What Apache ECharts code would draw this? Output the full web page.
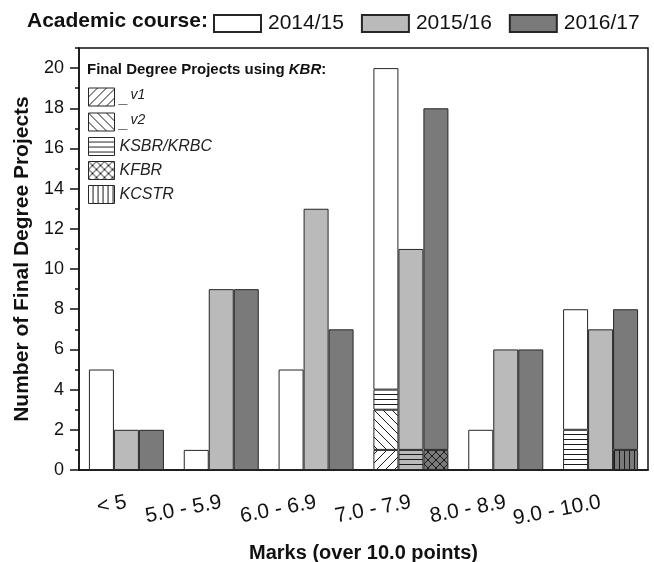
<!DOCTYPE html>
<html>
<head>
<meta charset="utf-8">
<script src="https://cdn.jsdelivr.net/npm/echarts@6/dist/echarts.min.js"></script>
<style>html,body{margin:0;padding:0;background:#fff}#c{width:654px;height:562px}</style>
</head>
<body>
<div id="c"></div>
<script>
// ---- data ----
const categories = ['< 5', '5.0 - 5.9', '6.0 - 6.9', '7.0 - 7.9', '8.0 - 8.9', '9.0 - 10.0'];
const courses = ['2014/15', '2015/16', '2016/17'];
const total1415 = [5, 1, 5, 20, 2, 8];
const total1516 = [2, 9, 13, 11, 6, 7];
const total1617 = [2, 9, 7, 18, 6, 8];
// KBR-based projects (hatched parts at bottom of bars)
const v1_1415 = [0, 0, 0, 1, 0, 0];
const v2_1415 = [0, 0, 0, 2, 0, 0];
const ksbr_1415 = [0, 0, 0, 1, 0, 2];
const ksbr_1516 = [0, 0, 0, 1, 0, 0];
const kfbr_1617 = [0, 0, 0, 1, 0, 0];
const kcstr_1617 = [0, 0, 0, 0, 0, 1];
const yTicks = [0, 2, 4, 6, 8, 10, 12, 14, 16, 18, 20];

// ---- styles ----
const WHITE = '#ffffff', LIGHT = '#bababa', DARK = '#7a7a7a', EDGE = '#262626';
const FONT = 'Liberation Sans';

function makePattern(bg, kind) {
  const s = (kind === 'h' || kind === 'v') ? 5 : (kind === 'x' ? 8 : 9);
  const c = document.createElement('canvas');
  c.width = s; c.height = s;
  const g = c.getContext('2d');
  g.fillStyle = bg; g.fillRect(0, 0, s, s);
  g.strokeStyle = '#1a1a1a'; g.lineWidth = 1;
  g.beginPath();
  const fwd = () => { g.moveTo(0, s); g.lineTo(s, 0); g.moveTo(-2, 2); g.lineTo(2, -2); g.moveTo(s - 2, s + 2); g.lineTo(s + 2, s - 2); };
  const bwd = () => { g.moveTo(0, 0); g.lineTo(s, s); g.moveTo(s - 2, -2); g.lineTo(s + 2, 2); g.moveTo(-2, s - 2); g.lineTo(2, s + 2); };
  if (kind === 'h') { g.moveTo(0, s - 0.5); g.lineTo(s, s - 0.5); }
  if (kind === 'v') { g.moveTo(s - 0.5, 0); g.lineTo(s - 0.5, s); }
  if (kind === 'f') fwd();
  if (kind === 'b') bwd();
  if (kind === 'x') { fwd(); bwd(); }
  g.stroke();
  return { image: c, repeat: 'repeat' };
}

const nz = arr => arr.map(v => (v === 0 ? '-' : v));
const sub = (tot, ...parts) => tot.map((t, i) => t - parts.reduce((a, p) => a + p[i], 0));

function bar(name, stack, data, color) {
  return {
    name, type: 'bar', stack, data: nz(data), barWidth: 25, barGap: '0%',
    itemStyle: { color, borderColor: EDGE, borderWidth: 1 },
    emphasis: { disabled: true }, animation: false
  };
}

const series = [
  bar('v1', 's1', v1_1415, makePattern(WHITE, 'f')),
  bar('v2', 's1', v2_1415, makePattern(WHITE, 'b')),
  bar('KSBR/KRBC', 's1', ksbr_1415, makePattern(WHITE, 'h')),
  bar(courses[0], 's1', sub(total1415, v1_1415, v2_1415, ksbr_1415), WHITE),
  bar('KSBR/KRBC', 's2', ksbr_1516, makePattern(LIGHT, 'h')),
  bar(courses[1], 's2', sub(total1516, ksbr_1516), LIGHT),
  bar('KFBR', 's3', kfbr_1617, makePattern(DARK, 'x')),
  bar('KCSTR', 's3', kcstr_1617, makePattern(DARK, 'v')),
  bar(courses[2], 's3', sub(total1617, kfbr_1617, kcstr_1617), DARK)
];

const legendIcon = kind => ({ color: makePattern(WHITE, kind), borderColor: EDGE, borderWidth: 1 });

const chart = echarts.init(document.getElementById('c'), null, { renderer: 'canvas' });
chart.setOption({
  backgroundColor: '#fff',
  animation: false,
  textStyle: { fontFamily: FONT },
  title: [
    { text: 'Academic course:', left: 22, top: 6, padding: 5,
      textStyle: { fontFamily: FONT, fontSize: 21, fontWeight: 'bold', color: '#111' } },
    { text: '{b|Final Degree Projects using }{i|KBR}{b|:}', left: 82, top: 57,
      textStyle: { rich: {
        b: { fontFamily: FONT, fontSize: 15, fontWeight: 'bold', color: '#111' },
        i: { fontFamily: FONT, fontSize: 15, fontWeight: 'bold', fontStyle: 'italic', color: '#111' } } } }
  ],
  legend: [
    { data: courses, left: 208, top: 8, icon: 'rect', itemWidth: 47, itemHeight: 17, itemGap: 17,
      selectedMode: false,
      textStyle: { fontFamily: FONT, fontSize: 21, color: '#111', padding: [0, 0, 0, 2] } },
    { data: [
        { name: 'v1', itemStyle: legendIcon('f') },
        { name: 'v2', itemStyle: legendIcon('b') },
        { name: 'KSBR/KRBC', itemStyle: legendIcon('h') },
        { name: 'KFBR', itemStyle: legendIcon('x') },
        { name: 'KCSTR', itemStyle: legendIcon('v') }
      ],
      orient: 'vertical', left: 83, top: 82, icon: 'rect', itemWidth: 26, itemHeight: 18, itemGap: 5,
      selectedMode: false,
      formatter: n => (n === 'v1' || n === 'v2') ? '{u|_}{s|' + n + '}' : n,
      textStyle: { fontFamily: FONT, fontSize: 16, lineHeight: 18, fontStyle: 'italic', color: '#222',
        rich: { u: { fontFamily: FONT, fontSize: 16, lineHeight: 14, padding: [4, 2, 0, 0], color: '#222' },
                s: { fontFamily: FONT, fontSize: 14, lineHeight: 14, fontStyle: 'italic', padding: [0, 0, 4, 0], color: '#222' } } } }
  ],
  grid: { left: 79, right: 6, top: 48, bottom: 92, containLabel: false, outerBoundsMode: 'none',
    show: true, borderColor: '#111', borderWidth: 1.5, backgroundColor: 'transparent' },
  xAxis: [
    { type: 'category', data: categories, position: 'bottom',
      axisLine: { lineStyle: { color: '#111', width: 1.5 } },
      axisTick: { alignWithLabel: true, length: 9, lineStyle: { color: '#111', width: 1.5 } },
      axisLabel: { rotate: 11, margin: 32, fontFamily: FONT, fontSize: 21, color: '#111', interval: 0 },
      name: 'Marks (over 10.0 points)', nameLocation: 'middle', nameGap: 73,
      nameTextStyle: { fontFamily: FONT, fontSize: 20, fontWeight: 'bold', color: '#111' } },
    { type: 'category', data: categories, position: 'bottom', gridIndex: 0,
      axisLine: { show: false }, axisLabel: { show: false },
      axisTick: { length: 4, lineStyle: { color: '#111', width: 1.5 } } }
  ],
  yAxis: [
    { type: 'value', min: 0, max: 21, interval: 2,
      axisLine: { show: true, lineStyle: { color: '#111', width: 1.5 } },
      axisTick: { show: true, length: 9, lineStyle: { color: '#111', width: 1.5 } },
      splitLine: { show: false },
      axisLabel: { showMaxLabel: false, margin: 15, fontFamily: FONT, fontSize: 18, color: '#111',
        formatter: v => (yTicks.indexOf(v) >= 0 ? String(v) : '') },
      name: 'Number of Final Degree Projects', nameLocation: 'middle', nameGap: 37,
      nameTextStyle: { fontFamily: FONT, fontSize: 21, fontWeight: 'bold', color: '#111' } },
    { type: 'value', min: 0, max: 21, interval: 1, position: 'left',
      axisLine: { show: false }, axisLabel: { show: false }, splitLine: { show: false },
      axisTick: { show: true, length: 4, lineStyle: { color: '#111', width: 1.5 } } }
  ],
  series
});
</script>
</body>
</html>
